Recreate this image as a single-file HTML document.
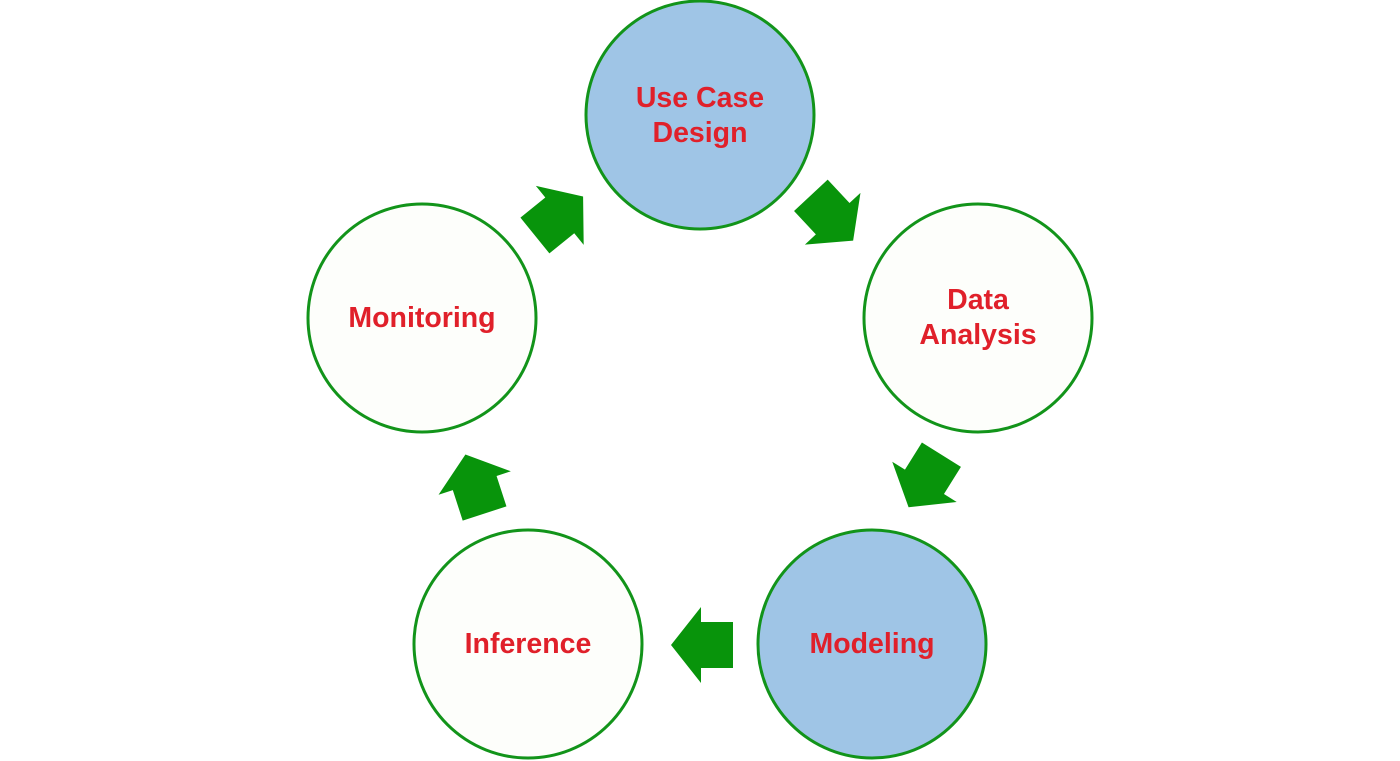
<!DOCTYPE html>
<html><head><meta charset="utf-8"><style>
html,body{margin:0;padding:0;background:#fff;}
svg{display:block;}
text{font-family:"Liberation Sans",sans-serif;font-weight:bold;font-size:28.5px;fill:#e0202a;text-anchor:middle;}
</style></head><body>
<svg width="1400" height="761" viewBox="0 0 1400 761" xmlns="http://www.w3.org/2000/svg">
<defs>
<polygon id="arr" points="-31,0 -1,-38 -1,-23 31,-23 31,23 -1,23 -1,38" fill="#08940b"/>
</defs>
<g stroke="#12941a" stroke-width="3">
<circle cx="700" cy="115" r="114" fill="#9fc5e6"/>
<circle cx="978" cy="318" r="114" fill="#fdfefb"/>
<circle cx="872" cy="644" r="114" fill="#9fc5e6"/>
<circle cx="528" cy="644" r="114" fill="#fdfefb"/>
<circle cx="422" cy="318" r="114" fill="#fdfefb"/>
</g>
<use href="#arr" transform="translate(702,645)"/>
<use href="#arr" transform="translate(475,484) rotate(72)"/>
<use href="#arr" transform="translate(559,216) rotate(141)"/>
<use href="#arr" transform="translate(832,218) rotate(-133)"/>
<use href="#arr" transform="translate(925,481) rotate(-58)"/>
<text x="700" y="107">Use Case</text>
<text x="700" y="142">Design</text>
<text x="978" y="309">Data</text>
<text x="978" y="344">Analysis</text>
<text x="872" y="653">Modeling</text>
<text x="528" y="653">Inference</text>
<text x="422" y="327">Monitoring</text>
</svg>
</body></html>
